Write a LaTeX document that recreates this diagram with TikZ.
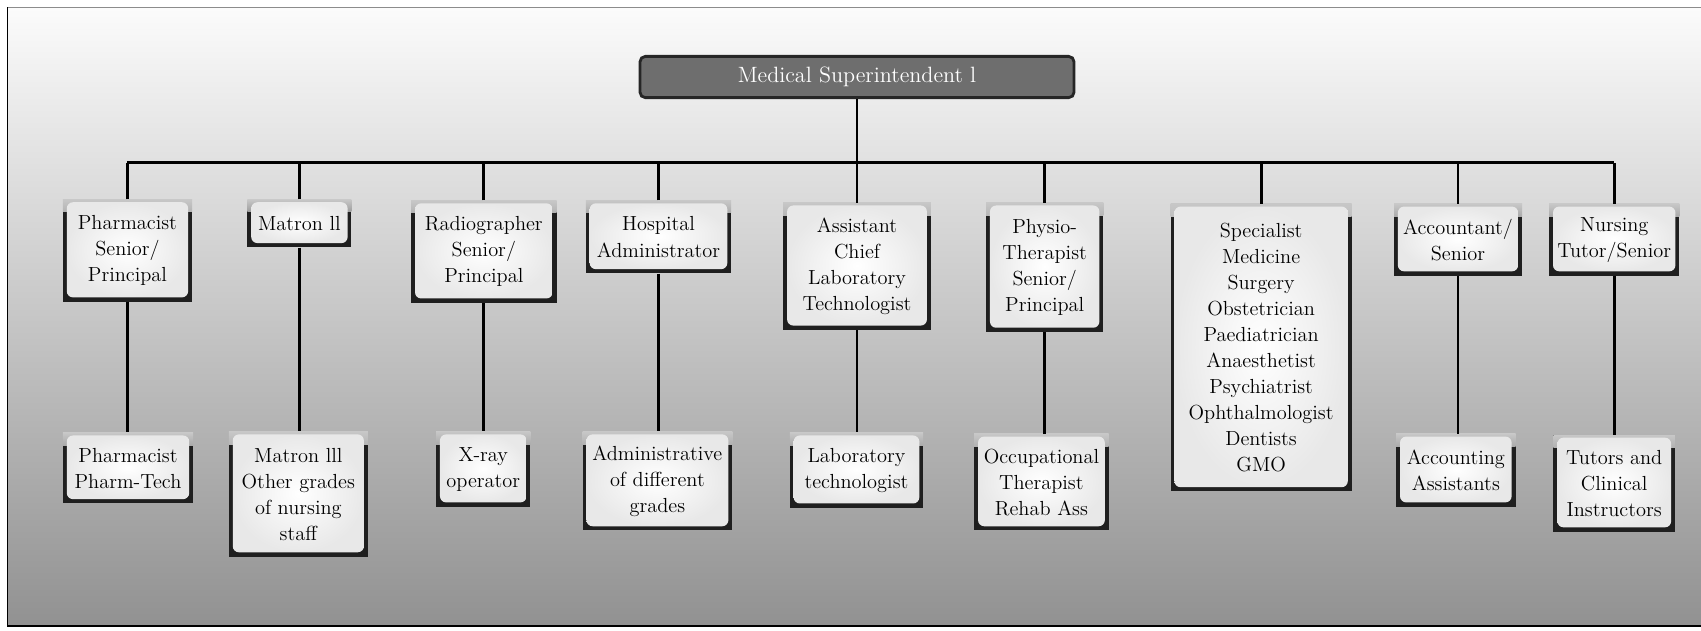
\documentclass[tikz,border=0pt]{standalone}
\begin{document}
\newcommand\boxfont{\fontsize{11.6}{14.8}\selectfont}
\newcommand\headfont{\fontsize{12.6}{15}\selectfont}
% place a named node from its corner coordinates: style, name, x1, y1, x2, y2, text
\newcommand\orgnode[7]{%
  \pgfmathsetmacro\orgW{(#5-#3)*0.0217}%
  \pgfmathsetmacro\orgH{(#6-#4)*0.0217}%
  \node[#1, minimum width=\orgW cm, minimum height=\orgH cm] (#2) at ({(#3+#5)/2},{(#4+#6)/2}) {#7};}
\definecolor{bgtop}{gray}{0.985}
\definecolor{bgmid}{gray}{0.80}
\definecolor{bgbot}{gray}{0.57}
\begin{tikzpicture}[x=0.0217cm,y=-0.0217cm,
  orgbox/.style={rectangle, inner sep=1pt, align=center, font=\boxfont, fill=black!88,
    path picture={
      \shade[top color=black!22, bottom color=black!88]
        (path picture bounding box.north west) rectangle ([yshift=-7pt]path picture bounding box.north east);
      \shade[rounded corners=3.5pt, inner color=white, outer color=black!9]
        ([shift={(2.2pt,2.4pt)}]path picture bounding box.south west) rectangle
        ([shift={(-2.2pt,-1.5pt)}]path picture bounding box.north east);
    }},
  headbox/.style={rectangle, rounded corners=3pt, fill=black!57, draw=black!85, line width=1.6pt,
    text=white, font=\headfont, inner sep=1pt},
  link/.style={line width=1.6pt, black}]
\useasboundingbox (0,0) rectangle (1568,581);

% background panel and frame
\shade[top color=bgtop, middle color=bgmid, bottom color=bgbot] (7,6.5) rectangle (1568,577);
\draw[black!45, line width=0.6pt] (7,6.5) -- (1568,6.5);
\draw[black, line width=0.8pt] (7,6.5) -- (7,577) -- (1568,577);

% head of the chart
\orgnode{headbox}{head}{590}{52}{990}{90}{Medical Superintendent l}

% first level
\orgnode{orgbox}{pharm}{58}{184}{177}{278}{Pharmacist\\Senior/\\Principal}
\orgnode{orgbox}{matron}{228}{184}{324}{228}{Matron ll}
\orgnode{orgbox}{radio}{379}{185}{513}{279}{Radiographer\\Senior/\\Principal}
\orgnode{orgbox}{hosp}{540}{185}{674}{252}{Hospital\\Administrator}
\orgnode{orgbox}{asst}{722}{187}{858}{304}{Assistant\\Chief\\Laboratory\\Technologist}
\orgnode{orgbox}{physio}{909}{187}{1017}{306}{Physio-\\Therapist\\Senior/\\Principal}
\orgnode{orgbox}{spec}{1079}{188}{1246}{453}{Specialist\\Medicine\\Surgery\\Obstetrician\\Paediatrician\\Anaesthetist\\Psychiatrist\\Ophthalmologist\\Dentists\\GMO}
\orgnode{orgbox}{acct}{1285}{188}{1403}{254}{Accountant/\\Senior}
\orgnode{orgbox}{nurse}{1428}{188}{1548}{254}{Nursing\\Tutor/Senior}

% second level
\orgnode{orgbox}{pharmtech}{58}{399}{178}{464}{Pharmacist\\Pharm-Tech}
\orgnode{orgbox}{matron3}{211}{398}{339}{513}{Matron lll\\Other grades\\of nursing\\staff}
\orgnode{orgbox}{xray}{402}{398}{489}{467}{X-ray\\operator}
\orgnode{orgbox}{admin}{537}{398}{675}{489}{Administrative\\of different\\grades}
\orgnode{orgbox}{labtech}{728}{399}{851}{468}{Laboratory\\technologist}
\orgnode{orgbox}{occ}{898}{400}{1022}{489}{Occupational\\Therapist\\Rehab Ass}
\orgnode{orgbox}{acctasst}{1287}{400}{1397}{467}{Accounting\\Assistants}
\orgnode{orgbox}{tutors}{1432}{401}{1544}{490}{Tutors and\\Clinical\\Instructors}

% connectors
\coordinate (busy) at (0,150);
\draw[link] (head.south) -- (head.south |- busy);
\draw[link] (pharm.north |- busy) -- (nurse.north |- busy);
\foreach \n in {pharm,matron,radio,hosp,asst,physio,spec,acct,nurse}
  \draw[link] (\n.north) -- (\n.north |- busy);
\foreach \a/\b in {pharm/pharmtech,matron/matron3,radio/xray,hosp/admin,asst/labtech,physio/occ,acct/acctasst,nurse/tutors}
  \draw[link] (\a.south) -- (\a.south |- \b.north);
\end{tikzpicture}
\end{document}
